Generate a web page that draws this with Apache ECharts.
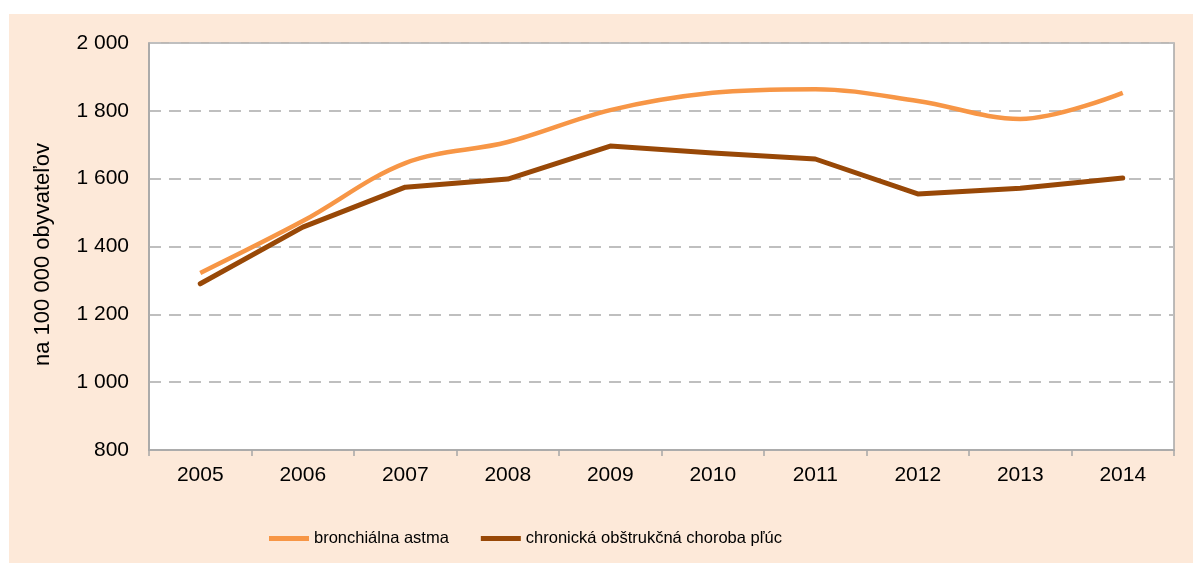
<!DOCTYPE html>
<html>
<head>
<meta charset="utf-8">
<script src="https://cdn.jsdelivr.net/npm/echarts@6/dist/echarts.min.js"></script>
<style>
html,body{margin:0;padding:0;background:#fff;}
#chart{width:1193px;height:563px;}
</style>
</head>
<body>
<div id="chart"></div>
<script>
const years = ['2005','2006','2007','2008','2009','2010','2011','2012','2013','2014'];
const astma = [1322, 1475, 1646, 1708, 1802, 1853, 1864, 1829, 1776, 1853];
const copd = [1290, 1457, 1575, 1599, 1696, 1676, 1658, 1555, 1572, 1602];
const seriesNames = ['bronchiálna astma', 'chronická obštrukčná choroba pľúc'];
const yTitle = 'na 100 000 obyvateľov';

const chart = echarts.init(document.getElementById('chart'));
const fmt = v => String(v).replace(/\B(?=(\d{3})+(?!\d))/g, ' ');
const FONT = '"Liberation Sans", Arial, sans-serif';
chart.setOption({
  backgroundColor: '#ffffff',
  animation: false,
  graphic: [{
    type: 'rect', z: -10, silent: true,
    shape: {x: 9, y: 14, width: 1184, height: 549},
    style: {fill: '#FDE9D9'}
  }],
  grid: {
    left: 149, top: 43, right: 19, bottom: 113,
    show: true, backgroundColor: '#ffffff', borderColor: '#A6A6A6', borderWidth: 1.5
  },
  legend: {
    left: 264, top: 525,
    itemWidth: 40, itemHeight: 5, itemGap: 32,
    icon: 'rect',
    textStyle: {fontFamily: FONT, fontSize: 16.5, color: '#000'},
    data: seriesNames
  },
  xAxis: {
    type: 'category', data: years, boundaryGap: true,
    axisLine: {lineStyle: {color: '#A6A6A6', width: 1.5}},
    axisTick: {show: true, length: 6, lineStyle: {color: '#A6A6A6', width: 1.5}},
    axisLabel: {fontFamily: FONT, fontSize: 21, color: '#000', margin: 15}
  },
  yAxis: {
    type: 'value', min: 800, max: 2000, interval: 200,
    name: yTitle, nameLocation: 'middle', nameGap: 95, nameRotate: 90,
    nameTextStyle: {fontFamily: FONT, fontSize: 22, color: '#000', padding: [0, 16, 0, 0]},
    axisLine: {show: true, lineStyle: {color: '#A6A6A6', width: 1.5}},
    axisTick: {show: false},
    axisLabel: {fontFamily: FONT, fontSize: 21, color: '#000', margin: 20, formatter: fmt},
    splitLine: {show: true, lineStyle: {color: '#BFBFBF', width: 2, type: [12, 8]}}
  },
  series: [
    {
      name: seriesNames[0], type: 'line', data: astma, smooth: 0.35,
      showSymbol: false, symbol: 'none',
      itemStyle: {color: '#F79646'},
      lineStyle: {color: '#F79646', width: 4.5, cap: 'butt'},
      z: 3
    },
    {
      name: seriesNames[1], type: 'line', data: copd, smooth: false,
      showSymbol: false, symbol: 'none',
      itemStyle: {color: '#984807'},
      lineStyle: {color: '#984807', width: 5, cap: 'round', join: 'round'},
      z: 2
    }
  ]
});
</script>
</body>
</html>
